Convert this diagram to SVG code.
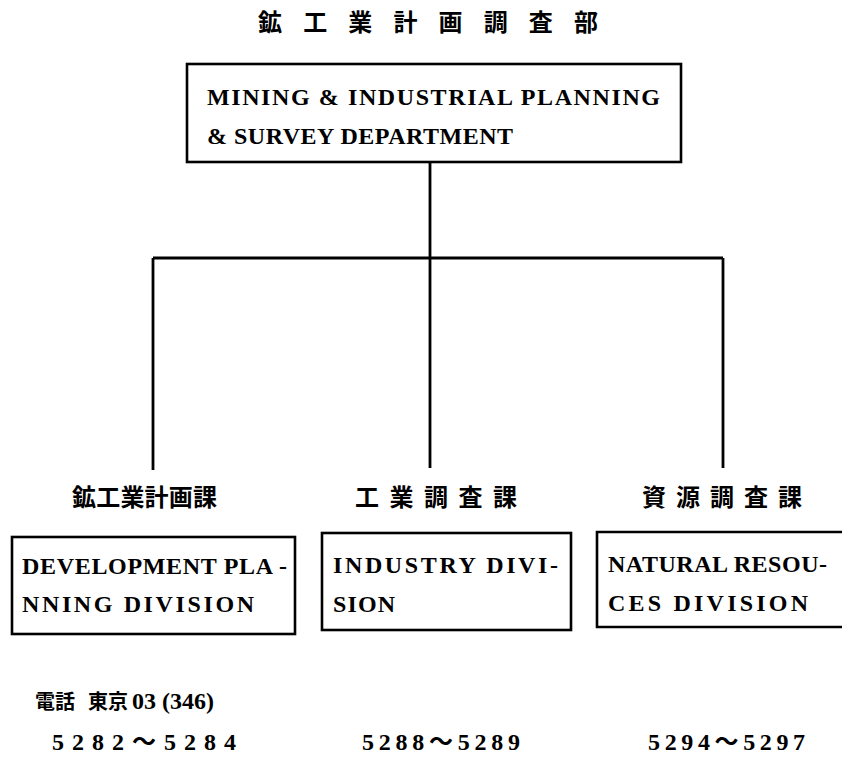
<svg xmlns="http://www.w3.org/2000/svg" width="842" height="765" viewBox="0 0 842 765">
<style>
.bg{fill:#fff}
.box{fill:none;stroke:#000;stroke-width:2.6}
.ln{fill:none;stroke:#000;stroke-width:2.8}
.en{font-family:"Liberation Serif","Times New Roman",serif;font-weight:bold;font-size:24px;fill:#000}
.jp{font-family:"Noto Sans CJK JP","Noto Sans CJK SC",sans-serif;font-weight:bold;font-size:24px;fill:#000}
.num{font-family:"Liberation Serif","Noto Sans CJK JP",serif;font-weight:bold;font-size:24px;fill:#000}
.ph{font-family:"Noto Sans CJK JP","Noto Sans CJK SC",sans-serif;font-weight:bold;font-size:20px;fill:#000}
</style>
<rect class="bg" x="0" y="0" width="842" height="765"/>
<g id="title">
<text class="jp" x="258" y="31" textLength="340" lengthAdjust="spacing">鉱工業計画調査部</text>
</g>
<g id="dept">
<rect class="box" x="187" y="64" width="494" height="98"/>
<text class="en" x="207" y="105" textLength="453" lengthAdjust="spacing">MINING &amp; INDUSTRIAL PLANNING</text>
<text class="en" x="207" y="144" textLength="306" lengthAdjust="spacing">&amp; SURVEY DEPARTMENT</text>
</g>
<g id="connectors">
<path class="ln" d="M430 162 V258 M153 258 H723 M153 258 V470 M430 258 V468 M723 258 V468"/>
</g>
<g id="div1">
<text class="jp" x="72" y="506" textLength="145" lengthAdjust="spacing">鉱工業計画課</text>
<rect class="box" x="12" y="537" width="283" height="97"/>
<text class="en" x="22" y="574" textLength="265" lengthAdjust="spacing">DEVELOPMENT PLA -</text>
<text class="en" x="22" y="612" textLength="232" lengthAdjust="spacing">NNING DIVISION</text>
</g>
<g id="div2">
<text class="jp" x="355" y="506" textLength="162" lengthAdjust="spacing">工業調査課</text>
<rect class="box" x="322" y="533" width="249" height="97"/>
<text class="en" x="333" y="573" textLength="225" lengthAdjust="spacing">INDUSTRY DIVI-</text>
<text class="en" x="333" y="612" textLength="62" lengthAdjust="spacing">SION</text>
</g>
<g id="div3">
<text class="jp" x="642" y="506" textLength="160" lengthAdjust="spacing">資源調査課</text>
<path class="box" d="M842 532 H597 V627 H842"/>
<text class="en" x="608" y="572" textLength="219" lengthAdjust="spacing">NATURAL RESOU-</text>
<text class="en" x="608" y="611" textLength="200" lengthAdjust="spacing">CES DIVISION</text>
</g>
<g id="phone">
<text class="ph" x="35" y="709">電話</text>
<text class="ph" x="88" y="709">東京</text>
<text class="num" x="132" y="709" font-size="21">03 (346)</text>
<text class="num" x="52" y="750" textLength="184" lengthAdjust="spacing">5282～5284</text>
<text class="num" x="362" y="750" textLength="158" lengthAdjust="spacing">5288～5289</text>
<text class="num" x="648" y="750" textLength="157" lengthAdjust="spacing">5294～5297</text>
</g>
</svg>
